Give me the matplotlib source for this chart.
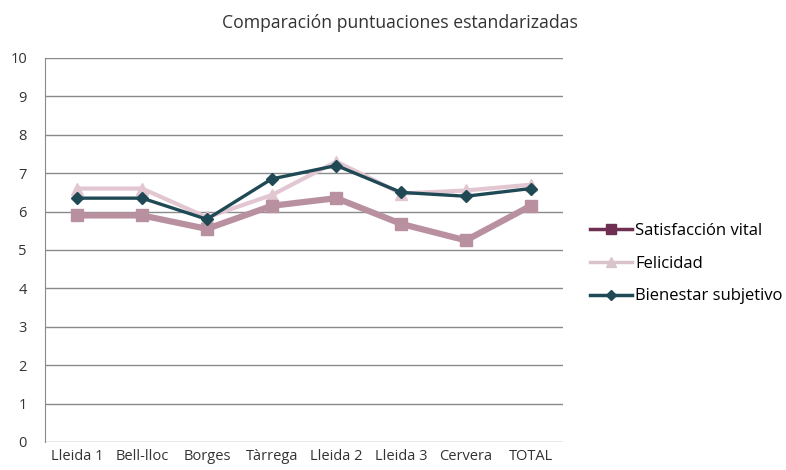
import matplotlib.pyplot as plt
from matplotlib.lines import Line2D

plt.rcParams["font.family"] = ["Open Sans", "DejaVu Sans"]

categories = ["Lleida 1", "Bell-lloc", "Borges", "Tàrrega", "Lleida 2", "Lleida 3", "Cervera", "TOTAL"]
satisfaccion = [5.9, 5.9, 5.55, 6.15, 6.35, 5.68, 5.25, 6.15]
felicidad = [6.6, 6.6, 5.85, 6.43, 7.3, 6.47, 6.55, 6.7]
bienestar = [6.35, 6.35, 5.8, 6.85, 7.2, 6.5, 6.4, 6.6]

fig = plt.figure(figsize=(7.86, 4.70), dpi=100)
ax = fig.add_axes([0.0573, 0.0596, 0.659, 0.817])

x = range(len(categories))
ax.plot(x, satisfaccion, color="#b9909f", lw=4.5, marker="s", ms=9, zorder=3)
ax.plot(x, felicidad, color="#e2c6d2", lw=3, marker="^", ms=8, zorder=2)
ax.plot(x, bienestar, color="#1f4a55", lw=2.4, marker="D", ms=6, zorder=4)

ax.set_xlim(-0.5, len(categories) - 0.5)
ax.set_ylim(0, 10)
ax.set_yticks(range(0, 11))
ax.set_xticks(list(x))
ax.set_xticklabels(categories)
ax.tick_params(axis="both", length=0, labelsize=10.5, colors="#333333")
ax.tick_params(axis="y", pad=13)
ax.tick_params(axis="x", pad=5)
ax.yaxis.grid(True, color="#8a8a8a", lw=1)
ax.set_axisbelow(True)
for s in ["top", "right", "bottom"]:
    ax.spines[s].set_visible(False)
ax.spines["left"].set_color("#8a8a8a")

fig.text(0.509, 0.951, "Comparación puntuaciones estandarizadas", ha="center",
         va="center", fontsize=12.7, color="#333333")

handles = [
    Line2D([], [], color="#6e2f52", lw=2.5, marker="s", ms=7),
    Line2D([], [], color="#d9c4cc", lw=2.5, marker="^", ms=7),
    Line2D([], [], color="#1f4a55", lw=2.5, marker="D", ms=5),
]
labels = ["Satisfacción vital", "Felicidad", "Bienestar subjetivo"]
fig.legend(handles, labels, loc="center left", bbox_to_anchor=(0.7506, 0.439),
           frameon=False, fontsize=12, handlelength=2.5, handletextpad=0.2,
           labelspacing=1.0, borderaxespad=0, borderpad=0)

fig.savefig("out.png", dpi=100)
